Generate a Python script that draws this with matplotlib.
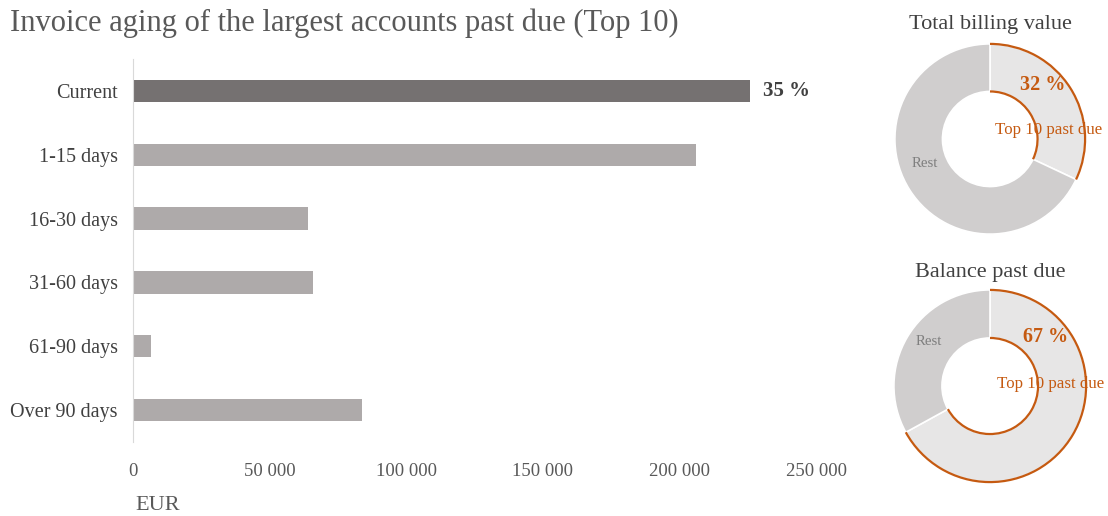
import matplotlib
matplotlib.use("Agg")
import matplotlib.pyplot as plt
from matplotlib.patches import Arc

plt.rcParams['font.family'] = ['Liberation Serif', 'DejaVu Serif']

# aging buckets (EUR)
categories = ['Current', '1-15 days', '16-30 days', '31-60 days', '61-90 days', 'Over 90 days']
amounts = [226000, 206000, 64000, 66000, 6500, 84000]
current_share = '35 %'
x_ticks = [0, 50000, 100000, 150000, 200000, 250000]

# share of top 10 past-due accounts (%)
billing_top10 = 32
balance_top10 = 67

W, H = 1108, 516
DARK = '#757171'
LIGHT = '#AEAAAA'
REST = '#D0CECE'
TOP = '#E7E6E6'
ORANGE = '#C55A11'

fig = plt.figure(figsize=(W / 100, H / 100), dpi=100)

def px_axes(x0, y0, x1, y1):
    # axes from pixel box (top-left origin)
    return fig.add_axes([x0 / W, 1 - y1 / H, (x1 - x0) / W, (y1 - y0) / H])

# ── bar chart ────────────────────────────────────────────────────────────────
ax = px_axes(133, 59, 816, 442)
ypos = list(range(len(categories)))
colors = [DARK] + [LIGHT] * (len(categories) - 1)
ax.barh(ypos, amounts, height=0.35, color=colors)
ax.set_ylim(len(categories) - 0.5, -0.5)
ax.set_xlim(0, 250000)
ax.set_yticks(ypos)
ax.set_yticklabels(categories, fontsize=14.5, color='#404040')
ax.set_xticks(x_ticks)
ax.set_xticklabels([f'{v:,}'.replace(',', ' ') for v in x_ticks], fontsize=13.5, color='#595959')
ax.tick_params(axis='both', length=0)
ax.tick_params(axis='x', pad=15)
ax.tick_params(axis='y', pad=11)
for s in ['top', 'right', 'bottom']:
    ax.spines[s].set_visible(False)
ax.spines['left'].set_color('#D9D9D9')
ax.text(amounts[0] + 4500, 0, current_share, va='center', ha='left',
        fontsize=15, fontweight='bold', color='#404040')

fig.text(10 / W, 1 - 23 / H, 'Invoice aging of the largest accounts past due (Top 10)',
         fontsize=22, color='#595959', va='center', ha='left')
fig.text(135 / W, 1 - 505 / H, 'EUR', fontsize=16, color='#595959', va='center', ha='left')

# ── donuts ───────────────────────────────────────────────────────────────────
def donut(cx, cy, r, pct, title, title_y, pct_xy, top_xy, rest_xy):
    a = px_axes(cx - r, cy - r, cx + r, cy + r)
    a.pie([pct, 100 - pct], colors=[TOP, REST], startangle=90, counterclock=False,
          radius=1, wedgeprops=dict(width=0.5, edgecolor='white', linewidth=1.2))
    t1 = 90 - 360 * pct / 100
    for rr in (1.0, 0.5):
        a.add_patch(Arc((0, 0), 2 * rr, 2 * rr, theta1=t1, theta2=90,
                        color=ORANGE, lw=1.6, zorder=5))
    a.set_xlim(-1.02, 1.02)
    a.set_ylim(-1.02, 1.02)
    a.set_aspect('equal')
    a.axis('off')
    a.text(*pct_xy, f'{pct} %', fontsize=14.5, fontweight='bold', color=ORANGE,
           ha='center', va='center')
    a.text(*top_xy, 'Top 10 past due', fontsize=12.2, color=ORANGE,
           ha='center', va='center', clip_on=False)
    a.text(*rest_xy, 'Rest', fontsize=10.7, color='#7F7F7F', ha='center', va='center')
    fig.text(cx / W, 1 - title_y / H, title, fontsize=16, color='#404040',
             ha='center', va='center')

donut(990, 139, 97, billing_top10, 'Total billing value', 24,
      (0.55, 0.57), (0.62, 0.09), (-0.69, -0.26))
donut(990, 386, 98, balance_top10, 'Balance past due', 272,
      (0.58, 0.51), (0.63, 0.02), (-0.64, 0.46))

fig.savefig('out.png', dpi=100, facecolor='white')
